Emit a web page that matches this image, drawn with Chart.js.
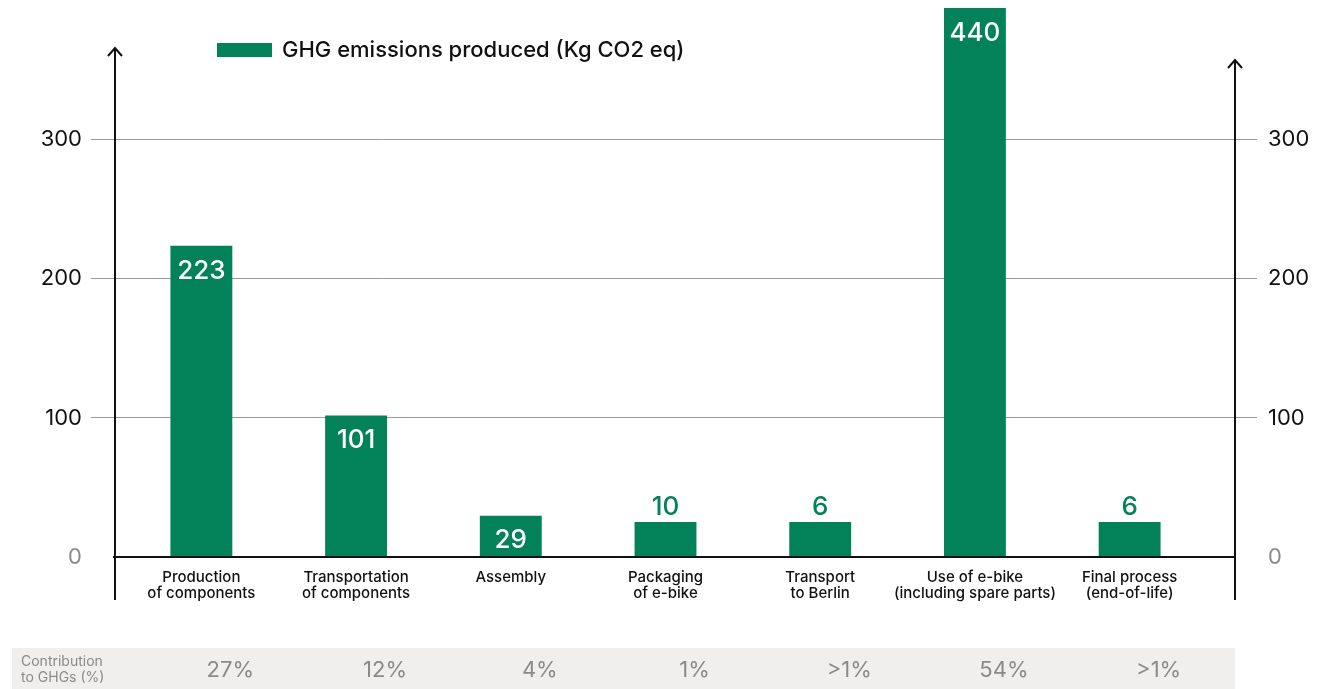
<!DOCTYPE html>
<html>
<head>
<meta charset="utf-8">
<title>GHG emissions of an e-bike</title>
<script src="https://cdn.jsdelivr.net/npm/chart.js@4/dist/chart.umd.min.js"></script>
<style>
  html, body { margin: 0; padding: 0; background: #fff; }
  #wrap { position: relative; width: 1325px; height: 689px; }
</style>
</head>
<body>
<div id="wrap"><canvas id="chart"></canvas></div>
<script>
// ---------- Data ----------
const categories = [
  ["Production", "of components"],
  ["Transportation", "of components"],
  ["Assembly"],
  ["Packaging", "of e-bike"],
  ["Transport", "to Berlin"],
  ["Use of e-bike", "(including spare parts)"],
  ["Final process", "(end-of-life)"]
];
const emissions = [223, 101, 29, 10, 6, 440, 6];
const shares = ["27%", "12%", "4%", "1%", ">1%", "54%", ">1%"];
const yTicks = [0, 100, 200, 300];
const seriesLabel = "GHG emissions produced (Kg CO2 eq)";
const shareLabel = ["Contribution", "to GHGs (%)"];

// ---------- Styles ----------
const GREEN = "#03825a";
const FONT = "Inter, 'Noto Sans', sans-serif";
const GREY_TEXT = "#8a8a8a";

// ---------- Custom drawing ----------
const decorPlugin = {
  id: "decor",
  beforeDatasetsDraw(chart) {
    const { ctx, scales: { x, y } } = chart;
    const left = 115, right = 1235;
    ctx.save();

    // bottom band with shares
    ctx.fillStyle = "#f0efed";
    ctx.fillRect(12, 648, right - 12, 41);

    // gridlines
    ctx.strokeStyle = "#9a9a9a";
    ctx.lineWidth = 1;
    yTicks.forEach(v => {
      if (v === 0) return;
      const py = Math.round(y.getPixelForValue(v)) + 0.5;
      ctx.beginPath();
      ctx.moveTo(91, py);
      ctx.lineTo(1257, py);
      ctx.stroke();
    });

    // tick labels on both sides
    ctx.font = "22px " + FONT;
    ctx.textBaseline = "middle";
    yTicks.forEach(v => {
      const py = y.getPixelForValue(v) + 1;
      ctx.fillStyle = v === 0 ? GREY_TEXT : "#111";
      ctx.textAlign = "right";
      ctx.fillText(String(v), 82, py);
      ctx.textAlign = "left";
      ctx.fillText(String(v), 1268, py);
    });

    // vertical axes with arrow heads
    ctx.strokeStyle = "#111";
    ctx.lineWidth = 2;
    [[left, 48], [right, 60]].forEach(([ax, top]) => {
      ctx.beginPath();
      ctx.moveTo(ax, 600);
      ctx.lineTo(ax, top);
      ctx.stroke();
      ctx.beginPath();
      ctx.moveTo(ax - 7, top + 8);
      ctx.lineTo(ax, top);
      ctx.lineTo(ax + 7, top + 8);
      ctx.stroke();
    });

    // category labels
    ctx.fillStyle = "#111";
    ctx.font = "500 15px " + FONT;
    ctx.textAlign = "center";
    categories.forEach((lines, i) => {
      const px = x.getPixelForValue(i);
      lines.forEach((t, j) => ctx.fillText(t, px, 577 + j * 16));
    });

    // shares row
    ctx.fillStyle = GREY_TEXT;
    ctx.font = "14px " + FONT;
    ctx.textAlign = "left";
    ctx.fillText(shareLabel[0], 21, 662);
    ctx.fillText(shareLabel[1], 21, 678);
    ctx.font = "22px " + FONT;
    ctx.textAlign = "center";
    shares.forEach((s, i) => {
      ctx.fillText(s, x.getPixelForValue(i) + 29, 670);
    });

    // legend
    ctx.fillStyle = GREEN;
    ctx.fillRect(217, 43, 55, 14);
    ctx.fillStyle = "#111";
    ctx.font = "500 22px " + FONT;
    ctx.textAlign = "left";
    ctx.fillText(seriesLabel, 282, 50);

    ctx.restore();
  },
  afterDatasetsDraw(chart) {
    const { ctx, scales: { y } } = chart;
    const meta = chart.getDatasetMeta(0);
    ctx.save();

    // baseline
    ctx.strokeStyle = "#111";
    ctx.lineWidth = 2;
    ctx.beginPath();
    ctx.moveTo(113, Math.round(y.getPixelForValue(0)) + 1);
    ctx.lineTo(1236, Math.round(y.getPixelForValue(0)) + 1);
    ctx.stroke();

    // value labels: white inside tall bars, green above short ones
    ctx.font = "500 26px " + FONT;
    ctx.textAlign = "center";
    ctx.textBaseline = "middle";
    meta.data.forEach((bar, i) => {
      const top = Math.max(bar.y, chart.chartArea.top);
      if (emissions[i] >= 20) {
        ctx.fillStyle = "#fff";
        ctx.fillText(String(emissions[i]), bar.x, top + 25);
      } else {
        ctx.fillStyle = GREEN;
        ctx.fillText(String(emissions[i]), bar.x, top - 15);
      }
    });
    ctx.restore();
  }
};

// ---------- Chart ----------
new Chart(document.getElementById("chart"), {
  type: "bar",
  data: {
    labels: categories.map(c => c.join(" ")),
    datasets: [{
      label: seriesLabel,
      data: emissions,
      backgroundColor: GREEN,
      borderWidth: 0,
      categoryPercentage: 1,
      barPercentage: 0.4,
      minBarLength: 34
    }]
  },
  options: {
    responsive: true,
    maintainAspectRatio: false,
    animation: false,
    layout: { padding: { left: 124, right: 118, top: 8, bottom: 133 } },
    plugins: {
      legend: { display: false },
      tooltip: { enabled: false }
    },
    scales: {
      x: { display: false },
      y: { display: false, min: 0, max: 394 }
    }
  },
  plugins: [decorPlugin]
});
</script>
</body>
</html>
